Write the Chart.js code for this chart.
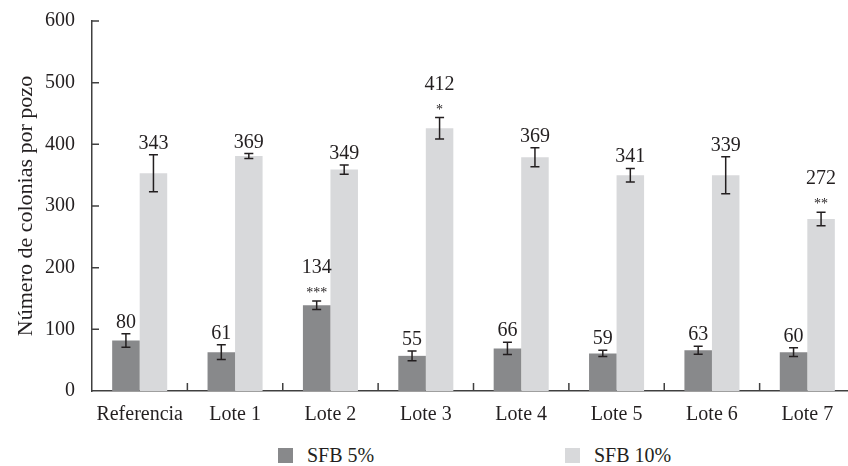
<!DOCTYPE html>
<html>
<head>
<meta charset="utf-8">
<script src="https://cdn.jsdelivr.net/npm/chart.js@4.4.1/dist/chart.umd.min.js"></script>
<style>
  html, body { margin: 0; padding: 0; background: #fff; overflow: hidden; }
  #wrap { position: relative; width: 848px; height: 466px; overflow: hidden; }
  #box { width: 856px; height: 434px; }
  #legend { font: 20px "Liberation Serif", serif; color: #231f20; }
  .item { position: absolute; top: 445px; height: 20px; line-height: 20px; display: flex; align-items: center; }
  .swatch { width: 15px; height: 15px; margin-right: 14px; }
</style>
</head>
<body>
<div id="wrap">
  <div id="box"><canvas id="chart"></canvas></div>
  <div id="legend"></div>
</div>
<script>
const categories = ["Referencia", "Lote 1", "Lote 2", "Lote 3", "Lote 4", "Lote 5", "Lote 6", "Lote 7"];
const seriesNames = ["SFB 5%", "SFB 10%"];

const sfb5 = [82, 63, 139, 57, 69, 61, 66, 63];
const sfb5Err = [11, 12, 7, 8, 10, 5, 6.5, 7];
const sfb5Labels = ["80", "61", "134", "55", "66", "59", "63", "60"];
const sfb5Stars = ["", "", "***", "", "", "", "", ""];

const sfb10 = [353, 381, 359, 426, 379, 350, 350, 279];
const sfb10Err = [30, 4, 7.5, 17.5, 15.5, 11, 30, 11];
const sfb10Labels = ["343", "369", "349", "412", "369", "341", "339", "272"];
const sfb10Stars = ["", "", "", "*", "", "", "", "**"];

const yMin = 0, yMax = 600, yStep = 100;

const colors = ["#88898b", "#d8d9db"];
const ink = "#231f20";
const axisColor = "#404040";
const serif = "'Liberation Serif', serif";

window.addEventListener("load", () => {
  renderLegend();
  renderChart();
});

function renderLegend() {
  const lefts = [278, 565];
  document.getElementById("legend").innerHTML = seriesNames
    .map((name, i) =>
      `<div class="item" style="left:${lefts[i]}px"><span class="swatch" style="background:${colors[i]}"></span>${name}</div>`)
    .join("");
}

const overlay = {
  id: "overlay",
  afterDatasetsDraw(chart) {
    const ctx = chart.ctx;
    const x = chart.scales.x, y = chart.scales.y;
    const sets = [
      [sfb5, sfb5Err, sfb5Labels, sfb5Stars],
      [sfb10, sfb10Err, sfb10Labels, sfb10Stars],
    ];
    ctx.save();
    ctx.strokeStyle = ink;
    ctx.fillStyle = ink;
    ctx.lineWidth = 1.5;
    ctx.textAlign = "center";
    ctx.textBaseline = "alphabetic";
    sets.forEach(([vals, errs, labels, stars], d) => {
      chart.getDatasetMeta(d).data.forEach((bar, i) => {
        const top = y.getPixelForValue(vals[i] + errs[i]);
        const bot = y.getPixelForValue(vals[i] - errs[i]);
        const cx = bar.x;
        ctx.beginPath();
        ctx.moveTo(cx, top); ctx.lineTo(cx, bot);
        ctx.moveTo(cx - 4.5, top); ctx.lineTo(cx + 4.5, top);
        ctx.moveTo(cx - 4.5, bot); ctx.lineTo(cx + 4.5, bot);
        ctx.stroke();

        let base = top - 6;
        if (stars[i]) {
          ctx.font = "14px " + serif;
          ctx.fillText(stars[i], cx, top - 4);
          base = top - 28;
        }
        ctx.font = "20px " + serif;
        ctx.fillText(labels[i], cx, base);
      });
    });

    // inward tick marks
    ctx.strokeStyle = axisColor;
    ctx.beginPath();
    for (let i = 1; i < categories.length; i++) {
      const px = (x.getPixelForValue(i - 1) + x.getPixelForValue(i)) / 2;
      ctx.moveTo(px, y.bottom);
      ctx.lineTo(px, y.bottom - 8);
    }
    for (let v = yMin + yStep; v <= yMax; v += yStep) {
      const py = y.getPixelForValue(v);
      ctx.moveTo(x.left, py);
      ctx.lineTo(x.left + 7, py);
    }
    ctx.stroke();
    ctx.restore();
  },
};

function renderChart() {
  new Chart(document.getElementById("chart"), {
    type: "bar",
    data: {
      labels: categories,
      datasets: [
        { label: seriesNames[0], data: sfb5, backgroundColor: colors[0] },
        { label: seriesNames[1], data: sfb10, backgroundColor: colors[1] },
      ],
    },
    options: {
      responsive: true,
      maintainAspectRatio: false,
      animation: false,
      datasets: { bar: { barPercentage: 1, categoryPercentage: 0.577, borderWidth: 0 } },
      layout: { padding: { top: 9, right: 1, left: 0, bottom: 0 } },
      plugins: { legend: { display: false }, tooltip: { enabled: false } },
      scales: {
        x: {
          grid: { display: false },
          border: { display: true, color: axisColor, width: 1.5 },
          ticks: { color: ink, font: { family: serif, size: 20 }, padding: 4 },
          afterFit: (s) => { s.height = 43; },
        },
        y: {
          min: yMin,
          max: yMax,
          grid: { display: false },
          border: { display: true, color: axisColor, width: 1.5 },
          ticks: { stepSize: yStep, color: ink, font: { family: serif, size: 20 }, padding: 9 },
          title: {
            display: true,
            text: "Número de colonias por pozo",
            color: ink,
            font: { family: serif, size: 22 },
            padding: { top: 13, bottom: 0 },
          },
          afterFit: (s) => { s.width = 92; },
        },
      },
    },
    plugins: [overlay],
  });
}
</script>
</body>
</html>
